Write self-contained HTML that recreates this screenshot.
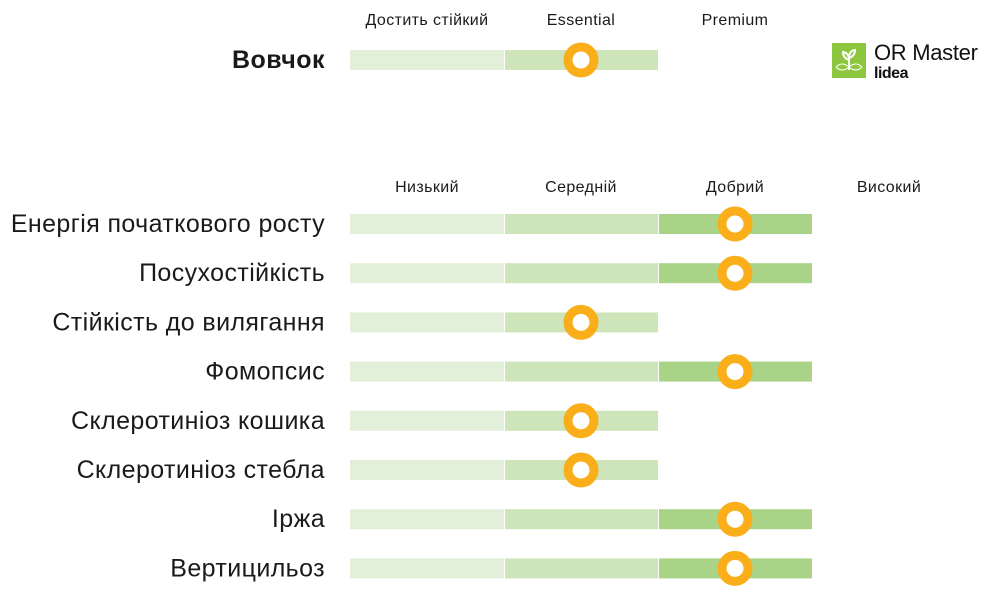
<!DOCTYPE html>
<html><head><meta charset="utf-8"><style>
body{margin:0;width:993px;height:592px;background:#fff;overflow:hidden;font-family:"Liberation Sans",sans-serif}
svg text{font-family:"Liberation Sans",sans-serif}
</style></head><body>
<svg width="993" height="592">
<g id="top"></g><g id="main"></g>
<g>
<rect x="832" y="43" width="34" height="35" fill="#8dc63f"/>
<path d="M849 70 V55 M849 60 q-6 -2 -6 -8 q6 1 6 8 M849 58 q6 -2 6 -8 q-6 1 -6 8" stroke="#fff" stroke-width="2" fill="none"/>
<path d="M836 67 q6 6 13 0 q7 -6 13 0 M836 67 q6 -6 13 0 q7 6 13 0" stroke="#fff" stroke-width="1" fill="none"/>
<text x="874" y="60" font-size="22" fill="#111" letter-spacing="-0.3">OR Master</text>
<text x="874" y="78" font-size="16" font-weight="bold" fill="#111" letter-spacing="-0.5">lidea</text>
</g>
</svg>
<script>
const topHeaders=["Достить стійкий","Essential","Premium"];
const topTitle="Вовчок";
const topValue=1.5;
const mainHeaders=["Низький","Середній","Добрий","Високий"];
const traits=["Енергія початкового росту","Посухостійкість","Стійкість до вилягання","Фомопсис","Склеротиніоз кошика","Склеротиніоз стебла","Іржа","Вертицильоз"];
const values=[2.5,2.5,1.5,2.5,1.5,1.5,2.5,2.5];
const NS="http://www.w3.org/2000/svg";
const x0=350,seg=154;
const xs=v=>x0+seg*v;
const colors=["#e2f0d9","#cee5b9","#a9d387"];
function mk(tag,attrs,parent){const e=document.createElementNS(NS,tag);for(const k in attrs)e.setAttribute(k,attrs[k]);parent.appendChild(e);return e;}
function row(g,label,v,cy,bold){
  const t=mk("text",{x:325,y:cy+8,"text-anchor":"end","font-size":bold?25:25,"font-weight":bold?"bold":"normal","letter-spacing":bold?0.5:0.4,fill:"#1a1a1a"},g);
  t.textContent=label;
  
  
  const n=Math.ceil(v);
  for(let i=0;i<n;i++){
    const r=mk("rect",{x:xs(i)+(i?1:0),y:cy-10,width:seg-(i?1:0),height:20,fill:colors[Math.min(i,2)]},g);
    
    
  }
  const c=mk("circle",{cx:xs(v),cy:cy,r:13,fill:"#fff",stroke:"#f9ae1a","stroke-width":9},g);
  
  
}
function headers(g,list,y){
  list.forEach((h,i)=>{const t=mk("text",{x:xs(i+0.5),y:y,"text-anchor":"middle","font-size":16,"letter-spacing":0.4,fill:"#1a1a1a"},g);t.textContent=h;
  
  });
}
const gt=document.getElementById("top"),gm=document.getElementById("main");
headers(gt,topHeaders,25);
row(gt,topTitle,topValue,60,true);
headers(gm,mainHeaders,192);
traits.forEach((t,i)=>row(gm,t,values[i],224+i*49.2,false));
</script>
</body></html>
